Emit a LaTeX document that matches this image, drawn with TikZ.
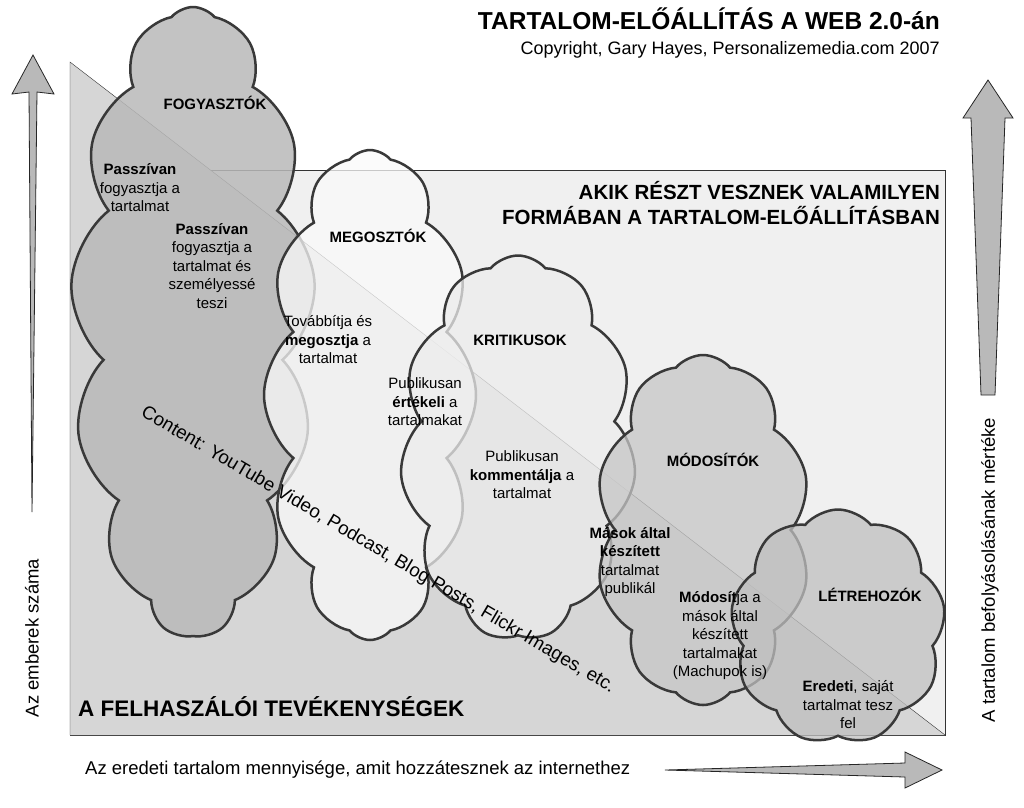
\documentclass[tikz,border=0pt]{standalone}
\usepackage{fontspec}
\setmainfont{Liberation Sans}
\usetikzlibrary{shapes.symbols}
\tikzset{
  puff/.style={cloud, cloud puffs=#1, cloud puff arc=100, draw=gray!45!black, line width=2.5pt, inner sep=0pt},
  cloudtitle/.style={font=\fontsize{15}{17}\selectfont\bfseries, inner sep=0.75pt},
  cloudtext/.style={font=\fontsize{15}{18.5}\selectfont, align=center, inner sep=0.75pt},
  wedge/.style={fill=gray!55, draw=gray!30!black, line width=0.8pt}
}
\begin{document}
\begin{tikzpicture}[x=1pt,y=-1pt]
\useasboundingbox (0,0) rectangle (1024,807);
\fill[white] (0,0) rectangle (1024,807);

%Panels
\draw[fill=gray!12, draw=gray!40!black] (70,170) rectangle (945,735);
\fill[gray!32] (70,62) -- (945,735) -- (70,735) -- cycle;
\draw[gray!40!black] (70,735) -- (70,62) -- (945,735);

%Clouds
\node[puff=13, fill=gray!55, fill opacity=0.85, minimum width=245, minimum height=630] (fogy) at (193,322) {};
\node[puff=12, fill=gray!4, fill opacity=0.75, minimum width=212, minimum height=490] (megoszt) at (370,395) {};
\node[puff=11, fill=gray!15, fill opacity=0.75, minimum width=236, minimum height=385] (krit) at (518,448) {};
\node[puff=10, fill=gray!45, fill opacity=0.75, minimum width=216, minimum height=350] (modosit) at (703,530) {};
\node[puff=9, fill=gray!50, fill opacity=0.75, minimum width=215, minimum height=235] (letreh) at (838,627) {};

%Titles
\node[anchor=east, font=\fontsize{24.5}{27}\selectfont\bfseries, inner sep=0] (title) at (940,19) {TARTALOM-ELŐÁLLÍTÁS A WEB 2.0-án};
\node[anchor=east, font=\fontsize{18}{20}\selectfont, inner sep=0] (copy) at (940,50) {Copyright, Gary Hayes, Personalizemedia.com 2007};
\node[anchor=east, align=right, font=\fontsize{20.5}{25}\selectfont\bfseries, inner sep=0] (akik) at (940,203) {AKIK RÉSZT VESZNEK VALAMILYEN\\FORMÁBAN A TARTALOM-ELŐÁLLÍTÁSBAN};
\node[anchor=west, font=\fontsize{22.5}{25}\selectfont\bfseries, inner sep=0] (felh) at (78,707) {A FELHASZÁLÓI TEVÉKENYSÉGEK};

%Cloud texts
\node[cloudtitle] (fogyt) at (215,103) {FOGYASZTÓK};
\node[cloudtext] (fogy1) at (140,188) {\textbf{Passzívan}\\fogyasztja a\\tartalmat};
\node[cloudtext] (fogy2) at (212,266) {\textbf{Passzívan}\\fogyasztja a\\tartalmat és\\személyessé\\teszi};
\node[cloudtitle] (megosztt) at (378,236) {MEGOSZTÓK};
\node[cloudtext] (megoszt1) at (328,340) {Továbbítja és\\\textbf{megosztja} a\\tartalmat};
\node[cloudtitle] (kritt) at (520,340) {KRITIKUSOK};
\node[cloudtext] (krit1) at (425,402) {Publikusan\\\textbf{értékeli} a\\tartalmakat};
\node[cloudtext] (krit2) at (522,475) {Publikusan\\\textbf{kommentálja} a\\tartalmat};
\node[cloudtitle] (modositt) at (713,460) {MÓDOSÍTÓK};
\node[cloudtext] (modosit1) at (630,562) {\textbf{Mások által}\\\textbf{készített}\\tartalmat\\publikál};
\node[cloudtext] (modosit2) at (720,636) {\textbf{Módosít}ja a\\mások által\\készített\\tartalmakat\\(Machupok is)};
\node[cloudtitle] (letreht) at (870,595) {LÉTREHOZÓK};
\node[cloudtext] (letreh1) at (848,705) {\textbf{Eredeti}, saját\\tartalmat tesz\\fel};

\node[rotate=-30.5, font=\fontsize{18.8}{21}\selectfont, inner sep=0] (content) at (378,550) {Content: YouTube Video, Podcast, Blog Posts, Flickr Images, etc.};

%Axes
\draw[wedge] (32,512) -- (29,92) -- (12,94) -- (33,55) -- (54,94) -- (37,92) -- cycle;
\node[rotate=90, font=\fontsize{18.5}{20}\selectfont, inner sep=0] (embert) at (32,638) {Az emberek száma};
\draw[wedge] (981,395) -- (971,118) -- (963,118) -- (988,80) -- (1013,118) -- (1005,118) -- (995,395) -- cycle;
\node[rotate=90, font=\fontsize{18.5}{20}\selectfont, inner sep=0] (befoly) at (990,570) {A tartalom befolyásolásának mértéke};
\draw[wedge] (665,770) -- (905,763) -- (905,752) -- (942,770) -- (905,788) -- (905,777) -- cycle;
\node[anchor=west, font=\fontsize{18.5}{20}\selectfont, inner sep=0] (mennyis) at (85,770) {Az eredeti tartalom mennyisége, amit hozzátesznek az internethez};
\end{tikzpicture}
\end{document}
